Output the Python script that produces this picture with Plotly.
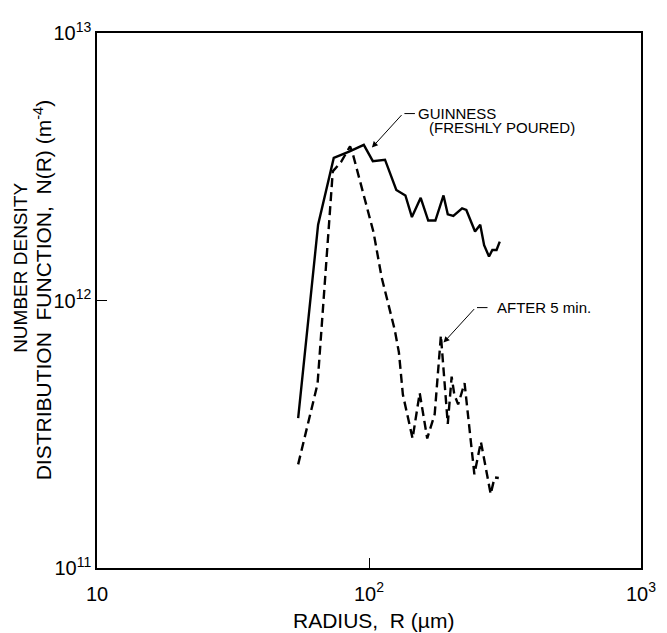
import numpy as np
import plotly.graph_objects as go

# Guinness, freshly poured (solid)
R_fresh = [54.9, 65.0, 74.2, 84.5, 95.7, 103.3, 114.5, 126.0, 136.1, 143.8, 154.9, 165.1,
           175.4, 187.9, 194.8, 204.2, 219.9, 227.9, 245.4, 256.4, 265.0, 276.2, 284.1,
           294.4, 302.5]
N_fresh = [3.63e11, 1.92e12, 3.41e12, 3.60e12, 3.82e12, 3.32e12, 3.36e12, 2.59e12, 2.47e12,
           2.05e12, 2.42e12, 1.99e12, 1.99e12, 2.47e12, 2.10e12, 2.07e12, 2.21e12, 2.18e12,
           1.81e12, 1.92e12, 1.61e12, 1.46e12, 1.545e12, 1.545e12, 1.66e12]

# After 5 min (dashed)
R_5min = [54.9, 64.7, 73.6, 78.9, 85.2, 86.9, 103.9, 111.3, 124.3, 128.8, 133.2, 138.8,
          144.6, 153.6, 163.7, 174.4, 183.8, 194.8, 201.3, 205.9, 212.7, 224.6, 244.0,
          257.9, 280.1, 289.5, 300.0]
N_5min = [2.44e11, 4.88e11, 3.04e12, 3.29e12, 3.77e12, 3.58e12, 1.80e12, 1.22e12, 7.78e11,
          6.40e11, 4.45e11, 3.66e11, 3.05e11, 4.51e11, 3.05e11, 3.76e11, 7.40e11, 3.46e11,
          5.19e11, 4.45e11, 4.09e11, 4.91e11, 2.24e11, 2.96e11, 1.89e11, 2.18e11, 2.17e11]

x_tickvals = [10, 100, 1000]
x_ticktext = ["10", "10<sup>2</sup>", "10<sup>3</sup>"]
y_tickvals = [1e11, 1e12, 1e13]
y_ticktext = ["10<sup>11</sup>", "10<sup>12</sup>", "10<sup>13</sup>"]

NB = "\u00a0"
x_title = "RADIUS," + NB * 2 + "R (µm)"
y_title_lines = ["NUMBER DENSITY",
                 "DISTRIBUTION" + NB * 2 + "FUNCTION," + NB * 2 + "N(R)" + NB + "(m<sup>-4</sup>)"]

FONT = "Liberation Sans, Arial, Helvetica, sans-serif"

fig = go.Figure()
fig.add_trace(go.Scatter(x=R_fresh, y=N_fresh, mode="lines",
                         line=dict(color="black", width=2.4), showlegend=False))
fig.add_trace(go.Scatter(x=R_5min, y=N_5min, mode="lines",
                         line=dict(color="black", width=2.4, dash="9px,5px"), showlegend=False))

def label(tip_r, tip_n, ax, ay, lines):
    xl, yl = np.log10(tip_r), np.log10(tip_n)
    # diagonal arrow
    fig.add_annotation(x=xl, y=yl, xref="x", yref="y", text="", showarrow=True,
                       ax=ax, ay=ay, arrowhead=2, arrowsize=1.2, arrowwidth=1,
                       arrowcolor="black", standoff=0)
    # short horizontal leader
    fig.add_annotation(x=xl, y=yl, xref="x", yref="y", text="", showarrow=True,
                       xshift=ax + 12, yshift=-ay, ax=-12, ay=0, arrowhead=0,
                       arrowwidth=1, arrowcolor="black", standoff=0)
    for i, (txt, indent) in enumerate(lines):
        fig.add_annotation(x=xl, y=yl, xref="x", yref="y", text=txt, showarrow=False,
                           xanchor="left", yanchor="middle",
                           xshift=ax + 13 + indent, yshift=-ay - 14 * i,
                           font=dict(family=FONT, size=15, color="black"))

label(102.5, 3.73e12, 31, -34, [("GUINNESS", 0), ("(FRESHLY POURED)", 11)])
label(187.9, 6.96e11, 32, -35, [("AFTER 5 min.", 6)])

# axis titles
fig.add_annotation(x=0.5, y=0, xref="paper", yref="paper", text=x_title, showarrow=False,
                   xanchor="center", yanchor="middle", xshift=4, yshift=-52,
                   font=dict(family=FONT, size=21, color="black"))
for txt, xs, yp, fs in zip(y_title_lines, [-76, -54], [0.561, 0.519], [19, 21]):
    fig.add_annotation(x=0, y=yp, xref="paper", yref="paper", text=txt, showarrow=False,
                       textangle=-90, xanchor="center", yanchor="middle", xshift=xs,
                       font=dict(family=FONT, size=fs, color="black"))

# page body has an 8px margin, so the figure is 8px smaller and margins are shifted
fig.update_layout(
    width=659, height=625,
    margin=dict(l=89, r=13, t=11, b=65),
    paper_bgcolor="white", plot_bgcolor="white",
    font=dict(family=FONT, size=20, color="black"),
    xaxis=dict(type="log", range=[1, 3], tickvals=x_tickvals, ticktext=x_ticktext,
               ticks="inside", ticklen=10, tickcolor="black", showgrid=False,
               showline=True, linecolor="black", linewidth=1.5, mirror=True,
               zeroline=False, ticklabelstandoff=7, ticklabeloverflow="allow"),
    yaxis=dict(type="log", range=[11, 13], tickvals=y_tickvals, ticktext=y_ticktext,
               ticks="inside", ticklen=10, tickcolor="black", showgrid=False,
               showline=True, linecolor="black", linewidth=1.5, mirror=True,
               zeroline=False, ticklabeloverflow="allow"),
)

fig.write_html("out.html")
